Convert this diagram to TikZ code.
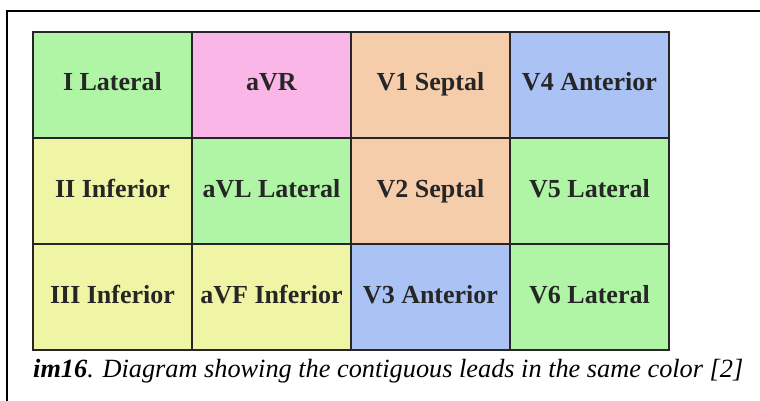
\documentclass[tikz,border=0pt]{standalone}
\usepackage{fontspec}
\setmainfont{Liberation Serif}
\usetikzlibrary{positioning}

\definecolor{leadgreen}{RGB}{175,245,165}
\definecolor{leadpink}{RGB}{250,182,230}
\definecolor{leadpeach}{RGB}{246,205,170}
\definecolor{leadblue}{RGB}{170,195,244}
\definecolor{leadyellow}{RGB}{240,245,165}

\begin{document}
\begin{tikzpicture}[x=1pt,y=-1pt]
\tikzstyle{lead}=[rectangle, minimum width=159pt, minimum height=106pt, outer sep=0pt, inner sep=0pt, text height=17pt, text depth=5pt, draw=black!85, line width=2.5pt, text=black!85, font=\fontsize{26}{30}\selectfont\bfseries, node distance=0pt]
\tikzstyle{frame}=[line width=2pt]
  \useasboundingbox (0,0) rectangle (760,401);
  \fill[white] (0,0) rectangle (760,401);
  \draw[frame] (7,401) -- (7,11) -- (760,11);
  % first row
  \node[lead, fill=leadgreen] (i) at (112.5,85) {I Lateral};
  \node[lead, fill=leadpink] (avr) [right=of i] {aVR};
  \node[lead, fill=leadpeach] (v1) [right=of avr] {V1 Septal};
  \node[lead, fill=leadblue] (v4) [right=of v1] {V4 Anterior};
  % second row
  \node[lead, fill=leadyellow] (ii) [below=of i] {II Inferior};
  \node[lead, fill=leadgreen] (avl) [right=of ii] {aVL Lateral};
  \node[lead, fill=leadpeach] (v2) [right=of avl] {V2 Septal};
  \node[lead, fill=leadgreen] (v5) [right=of v2] {V5 Lateral};
  % third row
  \node[lead, fill=leadyellow] (iii) [below=of ii] {III Inferior};
  \node[lead, fill=leadyellow] (avf) [right=of iii] {aVF Inferior};
  \node[lead, fill=leadblue] (v3) [right=of avf] {V3 Anterior};
  \node[lead, fill=leadgreen] (v6) [right=of v3] {V6 Lateral};
  \node[anchor=west, inner sep=0pt, font=\fontsize{26.3}{30}\selectfont\itshape] (caption) at (33,371) {\textbf{im16}. Diagram showing the contiguous leads in the same color [2]};
\end{tikzpicture}
\end{document}
